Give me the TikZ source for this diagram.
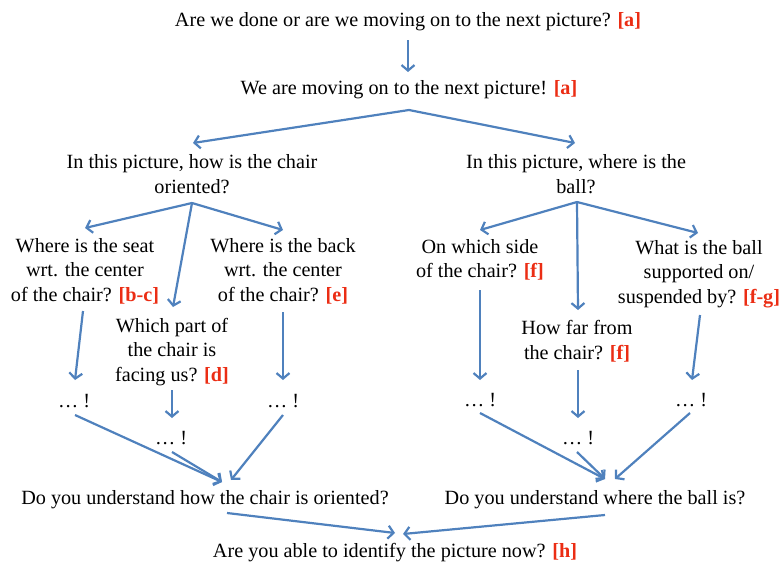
\documentclass[tikz,border=0pt]{standalone}
\usepackage{fontspec}
\setmainfont{Liberation Serif}[BoldFont={Liberation Serif Bold},ItalicFont={Liberation Serif Italic}]
\usetikzlibrary{arrows.meta}
\definecolor{arrowblue}{RGB}{79,129,189}
\definecolor{refred}{RGB}{235,45,20}
\newcommand{\rf}[1]{\textcolor{refred}{\textbf{#1}}}
\tikzset{
  txt/.style={inner sep=0pt, align=center, font=\fontsize{20.2}{24.5}\selectfont},
  arr/.style={draw=arrowblue, line width=2.2pt, -{Straight Barb[length=5.5pt,width=13pt]}}
}
\begin{document}
\begin{tikzpicture}[x=1pt,y=-1pt]
\useasboundingbox (0,0) rectangle (782,562);
% nodes
\node[txt] (t1) at (408,22) {Are we done or are we moving on to the next picture? \rf{[a]}};
\node[txt] (t2) at (409,90) {We are moving on to the next picture! \rf{[a]}};
\node[txt] (L) at (192,174) {In this picture, how is the chair\\oriented?};
\node[txt] (R) at (576,174) {In this picture, where is the\\ball?};
\node[txt] (LA) at (85,271) {Where is the seat\\wrt. the center\\of the chair? \rf{[b-c]}};
\node[txt] (LB) at (283,271) {Where is the back\\wrt. the center\\of the chair? \rf{[e]}};
\node[txt] (LM) at (172,352) {Which part of\\the chair is\\facing us? \rf{[d]}};
\node[txt] (RA) at (480,260) {On which side\\of the chair? \rf{[f]}};
\node[txt] (RB) at (699,274) {What is the ball\\supported on/\\suspended by? \rf{[f-g]}};
\node[txt] (RM) at (577,341) {How far from\\the chair? \rf{[f]}};
\node[txt] (d1) at (74,401) {… !};
\node[txt] (d2) at (171,438) {… !};
\node[txt] (d3) at (283,401) {… !};
\node[txt] (d4) at (480,400) {… !};
\node[txt] (d5) at (578,438) {… !};
\node[txt] (d6) at (691,400) {… !};
\node[txt] (U1) at (205,500) {Do you understand how the chair is oriented?};
\node[txt] (U2) at (595,500) {Do you understand where the ball is?};
\node[txt] (F) at (395,553) {Are you able to identify the picture now? \rf{[h]}};
% connectors
\draw[arr] ([shift={(0,18)}]t1.center) -- ([shift={(-1,-18)}]t2.center);
\draw[arr] ([shift={(0,20)}]t2.center) -- ([shift={(1,-31)}]L.center);
\draw[arr] ([shift={(0,20)}]t2.center) -- ([shift={(-1,-31)}]R.center);
\draw[arr] ([shift={(0,29)}]L.center) -- ([shift={(0,-43)}]LA.center);
\draw[arr] ([shift={(0,29)}]L.center) -- ([shift={(0,-41)}]LB.center);
\draw[arr] ([shift={(0,29)}]L.center) -- ([shift={(1,-45)}]LM.center);
\draw[arr] ([shift={(1,28)}]R.center) -- ([shift={(0,-30)}]RA.center);
\draw[arr] ([shift={(1,28)}]R.center) -- ([shift={(-1,-41)}]RB.center);
\draw[arr] ([shift={(1,28)}]R.center) -- ([shift={(1,-31)}]RM.center);
\draw[arr] ([shift={(-2,40)}]LA.center) -- ([shift={(1,-21)}]d1.center);
\draw[arr] ([shift={(0,41)}]LB.center) -- ([shift={(0,-21)}]d3.center);
\draw[arr] ([shift={(0,38)}]LM.center) -- ([shift={(1,-20)}]d2.center);
\draw[arr] ([shift={(0,30)}]RA.center) -- ([shift={(0,-20)}]d4.center);
\draw[arr] ([shift={(1,29)}]RM.center) -- ([shift={(0,-20)}]d5.center);
\draw[arr] ([shift={(1,41)}]RB.center) -- ([shift={(1,-20)}]d6.center);
\draw[arr] ([shift={(1,14)}]d1.center) -- ([shift={(17,-18)}]U1.center);
\draw[arr] ([shift={(1,14)}]d2.center) -- ([shift={(17,-18)}]U1.center);
\draw[arr] ([shift={(0,14)}]d3.center) -- ([shift={(26,-20)}]U1.center);
\draw[arr] ([shift={(0,13)}]d4.center) -- ([shift={(10,-21)}]U2.center);
\draw[arr] ([shift={(-1,14)}]d5.center) -- ([shift={(10,-21)}]U2.center);
\draw[arr] ([shift={(-1,13)}]d6.center) -- ([shift={(20,-21)}]U2.center);
\draw[arr] ([shift={(22,13)}]U1.center) -- ([shift={(0,-20)}]F.center);
\draw[arr] ([shift={(10,15)}]U2.center) -- ([shift={(8,-19)}]F.center);
\end{tikzpicture}
\end{document}
